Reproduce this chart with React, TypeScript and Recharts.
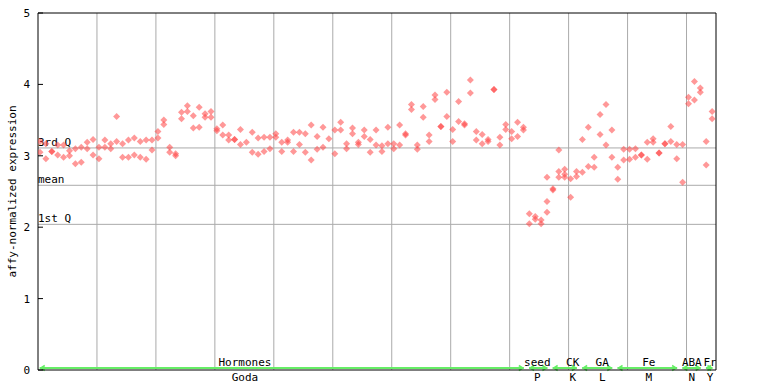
import { ScatterChart, Scatter, XAxis, YAxis, ReferenceLine } from "recharts";

const FONT = "'DejaVu Sans Mono', monospace";
const RED = "#ff4444";
const GRID = "#aaaaaa";
const GREEN = "#66ee66";

// replicate values per sample slot, one list per group
const hormonesValues: number[][] = [
  [3.2, 3.05], [3.17, 2.96], [3.06, 3.06], [3.15, 3.01], [3.15, 2.98], [3.07, 3.0],
  [3.1, 2.89], [3.12, 2.91], [3.19, 3.1], [3.23, 3.01], [3.12, 2.96], [3.22, 3.12],
  [3.17, 3.1], [3.55, 3.2], [3.17, 2.98], [3.22, 2.98], [3.25, 3.01], [3.2, 2.98],
  [3.22, 2.95], [3.22, 3.08], [3.34, 3.25], [3.5, 3.44], [3.12, 3.05], [3.03, 3.0],
  [3.61, 3.52], [3.7, 3.62], [3.56, 3.39], [3.68, 3.4], [3.59, 3.54], [3.62, 3.54],
  [3.38, 3.35], [3.43, 3.29], [3.29, 3.22], [3.23, 3.23], [3.37, 3.16], [3.19],
  [3.33, 3.05], [3.25, 3.02], [3.26, 3.06], [3.26, 3.1], [3.31, 3.26], [3.19, 3.06],
  [3.22, 3.19], [3.33, 3.06], [3.33, 3.16], [3.31, 3.05], [3.43, 2.94], [3.27, 3.09],
  [3.4, 3.12], [3.24], [3.36, 3.03], [3.47, 3.36], [3.17, 3.1], [3.39, 3.31],
  [3.19, 3.16], [3.36, 3.27], [3.23, 3.05], [3.36, 3.15], [3.14, 3.06], [3.4, 3.17],
  [3.17, 3.1], [3.43, 3.15], [3.31, 3.29], [3.72, 3.65], [3.15, 3.09], [3.69, 3.54],
  [3.29, 3.2], [3.85, 3.79], [3.41, 3.41], [3.89, 3.55], [3.37, 3.2], [3.76, 3.48],
  [3.45, 3.43], [4.06, 3.88], [3.34, 3.22], [3.3, 3.17], [3.23, 3.2], [3.93, 3.93],
  [3.26, 3.15], [3.44, 3.37], [3.34, 3.24], [3.47, 3.27], [3.4, 3.36],
];
const seedValues: number[][] = [[2.19, 2.05], [2.15, 2.11], [2.1, 2.05], [2.7, 2.36, 2.21]];
const ckValues: number[][] = [[2.54, 2.52], [3.08, 2.78, 2.7], [2.81, 2.74, 2.7], [2.68, 2.42], [2.78, 2.71]];
const gaValues: number[][] = [[3.23, 2.77], [3.4, 2.85], [2.98, 2.84], [3.58, 3.3], [3.72, 3.15], [3.36, 2.98]];
const feValues: number[][] = [
  [2.84, 2.67], [3.09, 2.94], [3.09, 2.95], [3.1, 2.98], [3.01, 3.01], [3.19, 2.95],
  [3.24, 3.19], [3.04, 3.04], [3.17, 3.17], [3.41, 3.2], [3.16, 2.96],
];
const abaValues: number[][] = [[3.16, 2.63], [3.82, 3.73], [4.04, 3.78], [3.95, 3.89]];
const frValues: number[][] = [[3.2, 2.87], [3.62, 3.52]];

const groupValues = [hormonesValues, seedValues, ckValues, gaValues, feValues, abaValues, frValues];
const groupNames = ["Hormones", "seed", "CK", "GA", "Fe", "ABA", "Fr"];
const groupSubs = ["Goda", "P", "K", "L", "M", "N", "Y"];
const groupLabelAt = [35.1, 84.7, 90.7, 95.7, 103.6, 110.9, 114.0];

const yTicks = [0, 1, 2, 3, 4, 5];
const xGridTicks = [10, 20, 30, 40, 50, 60, 70, 80, 90, 100, 110];
const quantiles = [
  { name: "3rd Q", value: 3.11 },
  { name: "mean", value: 2.587 },
  { name: "1st Q", value: 2.04 },
];

const SLOT_OFFSET = 0.34;

const points: { x: number; y: number }[] = [];
const segments: { start: number; end: number }[] = [];
let slot = 0;
groupValues.forEach((vals) => {
  const first = slot;
  vals.forEach((reps) => {
    reps.forEach((v) => points.push({ x: slot + SLOT_OFFSET, y: v }));
    slot++;
  });
  segments.push({ start: first + 0.3, end: slot - 1 + 0.4 });
});

const labelData = groupNames.map((name, i) => ({
  x: groupLabelAt[i],
  y: 0,
  name,
  sub: groupSubs[i],
}));

const Diamond = (props: any) => {
  const { cx, cy } = props;
  const r = 3.5;
  return (
    <polygon
      points={`${cx},${cy - r} ${cx + r},${cy} ${cx},${cy + r} ${cx - r},${cy}`}
      fill={RED}
      fillOpacity={0.55}
    />
  );
};

const GroupLabel = (props: any) => {
  const { cx, cy } = props;
  const p = props.payload ?? props;
  return (
    <g fontFamily={FONT} fontSize={11} fill="#000">
      <text x={cx} y={cy - 4} textAnchor="middle">{p.name}</text>
      <text x={cx} y={cy + 11} textAnchor="middle">{p.sub}</text>
    </g>
  );
};

const GreenSegment = (props: any) => {
  const { x1, x2, y1 } = props;
  const y = y1 - 2;
  return (
    <g stroke={GREEN} fill="none" strokeWidth={1.5}>
      <line x1={x1} x2={x2} y1={y} y2={y} strokeWidth={2} />
      <polyline points={`${x1 + 5},${y - 2.5} ${x1 + 1},${y} ${x1 + 5},${y + 2.5}`} />
      <polyline points={`${x2 - 5},${y - 2.5} ${x2 - 1},${y} ${x2 - 5},${y + 2.5}`} />
    </g>
  );
};

const LeftTick = (props: any) => {
  const { x, y, payload } = props;
  return (
    <g>
      <line x1={x} x2={x + 5} y1={y} y2={y} stroke="#000" />
      <text x={x - 8} y={y + 4} textAnchor="end" fontFamily={FONT} fontSize={11} fill="#000">
        {payload.value}
      </text>
    </g>
  );
};

const RightTick = (props: any) => {
  const { x, y } = props;
  return <line x1={x - 5} x2={x} y1={y} y2={y} stroke="#000" />;
};

const YLabel = (props: any) => {
  const vb = props.viewBox;
  const cy = vb.y + vb.height / 2;
  const x = 12;
  return (
    <text
      x={x}
      y={cy}
      transform={`rotate(-90 ${x} ${cy})`}
      textAnchor="middle"
      dominantBaseline="central"
      fontFamily={FONT}
      fontSize={11}
      fill="#000"
    >
      affy-normalized expression
    </text>
  );
};

export default function App() {
  return (
    <div style={{ position: "absolute", left: 0, top: 0, background: "#fff" }}>
      <ScatterChart width={768} height={384} margin={{ top: 13, right: 51, bottom: 0, left: 0 }}>
        <XAxis
          type="number"
          dataKey="x"
          domain={[0, 115]}
          ticks={xGridTicks}
          allowDataOverflow
          tick={false}
          tickLine={false}
          height={14}
          axisLine={{ stroke: "#000" }}
        />
        <YAxis
          yAxisId="left"
          type="number"
          dataKey="y"
          domain={[0, 5]}
          ticks={yTicks}
          width={38}
          tickSize={0}
          tickMargin={0}
          tickLine={false}
          tick={LeftTick}
          axisLine={{ stroke: "#000" }}
          label={{ content: YLabel }}
        />
        <YAxis
          yAxisId="right"
          orientation="right"
          type="number"
          dataKey="y"
          domain={[0, 5]}
          ticks={yTicks}
          width={1}
          tickSize={0}
          tickMargin={0}
          tickLine={false}
          tick={RightTick}
          axisLine={{ stroke: "#000" }}
        />
        {xGridTicks.map((t) => (
          <ReferenceLine key={`grid-${t}`} yAxisId="left" x={t} stroke={GRID} />
        ))}
        <ReferenceLine yAxisId="left" y={5} stroke="#000" />
        {quantiles.map((q) => (
          <ReferenceLine
            key={q.name}
            yAxisId="left"
            y={q.value}
            stroke={GRID}
            label={{
              content: (p: any) => (
                <text x={p.viewBox.x} y={p.viewBox.y - 2} fontFamily={FONT} fontSize={11} fill="#000">
                  {q.name}
                </text>
              ),
            }}
          />
        ))}
        {segments.map((s, i) => (
          <ReferenceLine
            key={`seg-${i}`}
            yAxisId="left"
            segment={[
              { x: s.start, y: 0 },
              { x: s.end, y: 0 },
            ]}
            shape={GreenSegment}
          />
        ))}
        <Scatter yAxisId="left" data={points} shape={Diamond} isAnimationActive={false} />
        <Scatter yAxisId="left" data={labelData} shape={GroupLabel} isAnimationActive={false} />
      </ScatterChart>
    </div>
  );
}
